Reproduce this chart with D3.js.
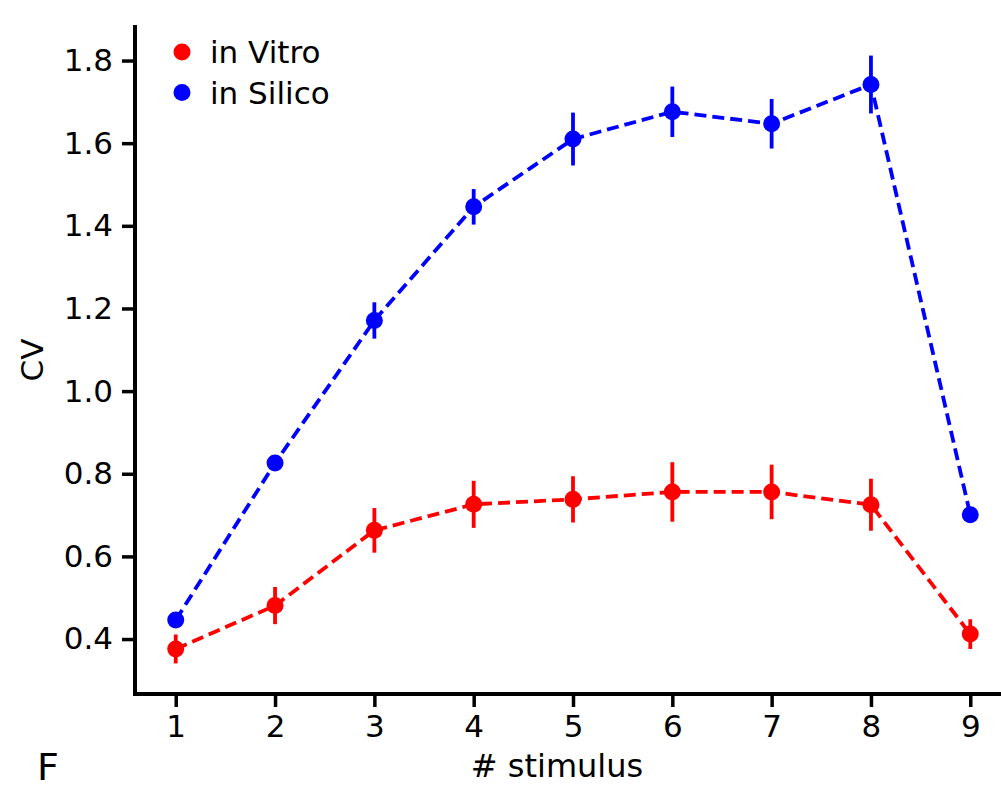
<!DOCTYPE html>
<html>
<head>
<meta charset="utf-8">
<script src="https://cdn.jsdelivr.net/npm/d3@7"></script>
<style>
  html, body { margin: 0; padding: 0; background: #fff; }
  svg { display: block; }
  text { font-family: "DejaVu Sans", sans-serif; fill: #000; }
</style>
</head>
<body>
<svg id="chart" width="1001" height="790"></svg>
<script>
// ---- data ----
const stimulus = [1, 2, 3, 4, 5, 6, 7, 8, 9];
const vitroMean = [0.376, 0.481, 0.663, 0.726, 0.738, 0.756, 0.756, 0.725, 0.412];
const vitroErr  = [0.035, 0.045, 0.054, 0.057, 0.056, 0.072, 0.066, 0.063, 0.036];
const silicoMean = [0.446, 0.826, 1.171, 1.446, 1.610, 1.676, 1.647, 1.742, 0.701];
const silicoErr  = [0.012, 0.012, 0.044, 0.043, 0.064, 0.061, 0.060, 0.070, 0.012];
const yTicks = [0.4, 0.6, 0.8, 1.0, 1.2, 1.4, 1.6, 1.8];
const xTicks = [1, 2, 3, 4, 5, 6, 7, 8, 9];
const seriesNames = ["in Vitro", "in Silico"];
const seriesColors = ["#ff0000", "#0000ff"];

const svg = d3.select("#chart");

const x = d3.scaleLinear().domain([0.6, 9.4]).range([136, 1010]);
const y = d3.scaleLinear().domain([0.267, 1.886]).range([694, 25]);

const series = [
  { name: seriesNames[0], color: seriesColors[0], mean: vitroMean, err: vitroErr },
  { name: seriesNames[1], color: seriesColors[1], mean: silicoMean, err: silicoErr }
];

// ---- axes ----
const yAxis = d3.axisLeft(y).tickValues(yTicks).tickFormat(d3.format(".1f"))
  .tickSize(13).tickPadding(9);
const xAxis = d3.axisBottom(x).tickValues(xTicks).tickFormat(d3.format("d"))
  .tickSize(13).tickPadding(8);

const gy = svg.append("g").attr("transform", "translate(135,0)").call(yAxis);
const gx = svg.append("g").attr("transform", "translate(0,694)").call(xAxis);

[gx, gy].forEach(g => {
  g.select(".domain").attr("stroke", "#000").attr("stroke-width", 4);
  g.selectAll(".tick line").attr("stroke", "#000").attr("stroke-width", 3.5);
  g.selectAll(".tick text").attr("font-size", 31).attr("font-family", "DejaVu Sans").attr("fill", "#000");
});
gy.select(".domain").attr("d", `M0,${y.range()[1]}V${y.range()[0] + 2}`);
gx.select(".domain").attr("d", `M${135 - 2},0H${x.range()[1]}`);

// ---- labels ----
svg.append("text").attr("x", 557).attr("y", 777)
  .attr("text-anchor", "middle").attr("font-size", 32).text("# stimulus");
svg.append("text").attr("transform", "translate(43,360) rotate(-90)")
  .attr("text-anchor", "middle").attr("font-size", 31).text("CV");
svg.append("text").attr("x", 37).attr("y", 780).attr("font-size", 38).text("F");

// ---- series ----
const line = d3.line().x((d, i) => x(stimulus[i])).y(d => y(d));

series.forEach(s => {
  const g = svg.append("g");
  g.append("path").datum(s.mean)
    .attr("d", line)
    .attr("fill", "none")
    .attr("stroke", s.color)
    .attr("stroke-width", 3.8)
    .attr("stroke-dasharray", "12,6");
  g.selectAll("line.err").data(s.mean).enter().append("line")
    .attr("class", "err")
    .attr("x1", (d, i) => x(stimulus[i]))
    .attr("x2", (d, i) => x(stimulus[i]))
    .attr("y1", (d, i) => y(d - s.err[i]))
    .attr("y2", (d, i) => y(d + s.err[i]))
    .attr("stroke", s.color)
    .attr("stroke-width", 3.8);
  g.selectAll("circle").data(s.mean).enter().append("circle")
    .attr("cx", (d, i) => x(stimulus[i]))
    .attr("cy", d => y(d))
    .attr("r", 8.5)
    .attr("fill", s.color);
});

// ---- legend ----
const legend = svg.append("g");
series.forEach((s, i) => {
  const cy = 52 + i * 40.5;
  legend.append("circle").attr("cx", 182).attr("cy", cy).attr("r", 8.5).attr("fill", s.color);
  legend.append("text").attr("x", 210).attr("y", cy + 11)
    .attr("font-size", 31).text(s.name);
});
</script>
</body>
</html>
